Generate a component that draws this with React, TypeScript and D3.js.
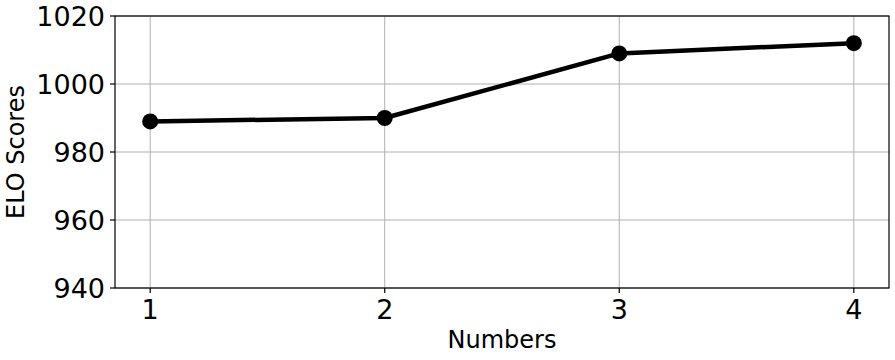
import React from "react";
import * as d3 from "d3";

const categories = [1, 2, 3, 4];
const eloScores = [989, 990, 1009, 1012];
const yTicks = [940, 960, 980, 1000, 1020];
const xTicks = [1, 2, 3, 4];

export default function App() {
  const W = 895, H = 360;
  const left = 115, right = 889, top = 16, bottom = 288;
  const x = d3.scaleLinear().domain([0.85, 4.15]).range([left, right]);
  const y = d3.scaleLinear().domain([940, 1020]).range([bottom, top]);
  const line = d3.line<number>().x((_, i) => x(categories[i])).y((d) => y(d));
  const font = "DejaVu Sans, sans-serif";
  return (
    <svg width={W} height={H} style={{ position: "absolute", left: 0, top: 0 }} fontFamily={font}>
      <rect width={W} height={H} fill="#fff" />
      {xTicks.map((t) => (
        <line key={"gx" + t} x1={x(t)} x2={x(t)} y1={top} y2={bottom} stroke="#b0b0b0" strokeWidth={1} />
      ))}
      {yTicks.map((t) => (
        <line key={"gy" + t} x1={left} x2={right} y1={y(t)} y2={y(t)} stroke="#b0b0b0" strokeWidth={1} />
      ))}
      <path d={line(eloScores) || ""} fill="none" stroke="#000" strokeWidth={4.5} strokeLinejoin="round" />
      {eloScores.map((v, i) => (
        <circle key={i} cx={x(categories[i])} cy={y(v)} r={8} fill="#000" />
      ))}
      <rect x={left} y={top} width={right - left} height={bottom - top} fill="none" stroke="#000" strokeWidth={1.2} />
      {yTicks.map((t) => (
        <g key={"ty" + t}>
          <line x1={left - 5} x2={left} y1={y(t)} y2={y(t)} stroke="#000" strokeWidth={1.2} />
          <text x={left - 10} y={y(t)} dy="0.36em" textAnchor="end" fontSize={27} fill="#000">{t}</text>
        </g>
      ))}
      {xTicks.map((t) => (
        <g key={"tx" + t}>
          <line x1={x(t)} x2={x(t)} y1={bottom} y2={bottom + 5} stroke="#000" strokeWidth={1.2} />
          <text x={x(t)} y={bottom + 31} textAnchor="middle" fontSize={27} fill="#000">{t}</text>
        </g>
      ))}
      <text x={(left + right) / 2} y={348} textAnchor="middle" fontSize={24} fill="#000">Numbers</text>
      <text transform={`translate(24, ${(top + bottom) / 2}) rotate(-90)`} textAnchor="middle" fontSize={24} fill="#000">ELO Scores</text>
    </svg>
  );
}
